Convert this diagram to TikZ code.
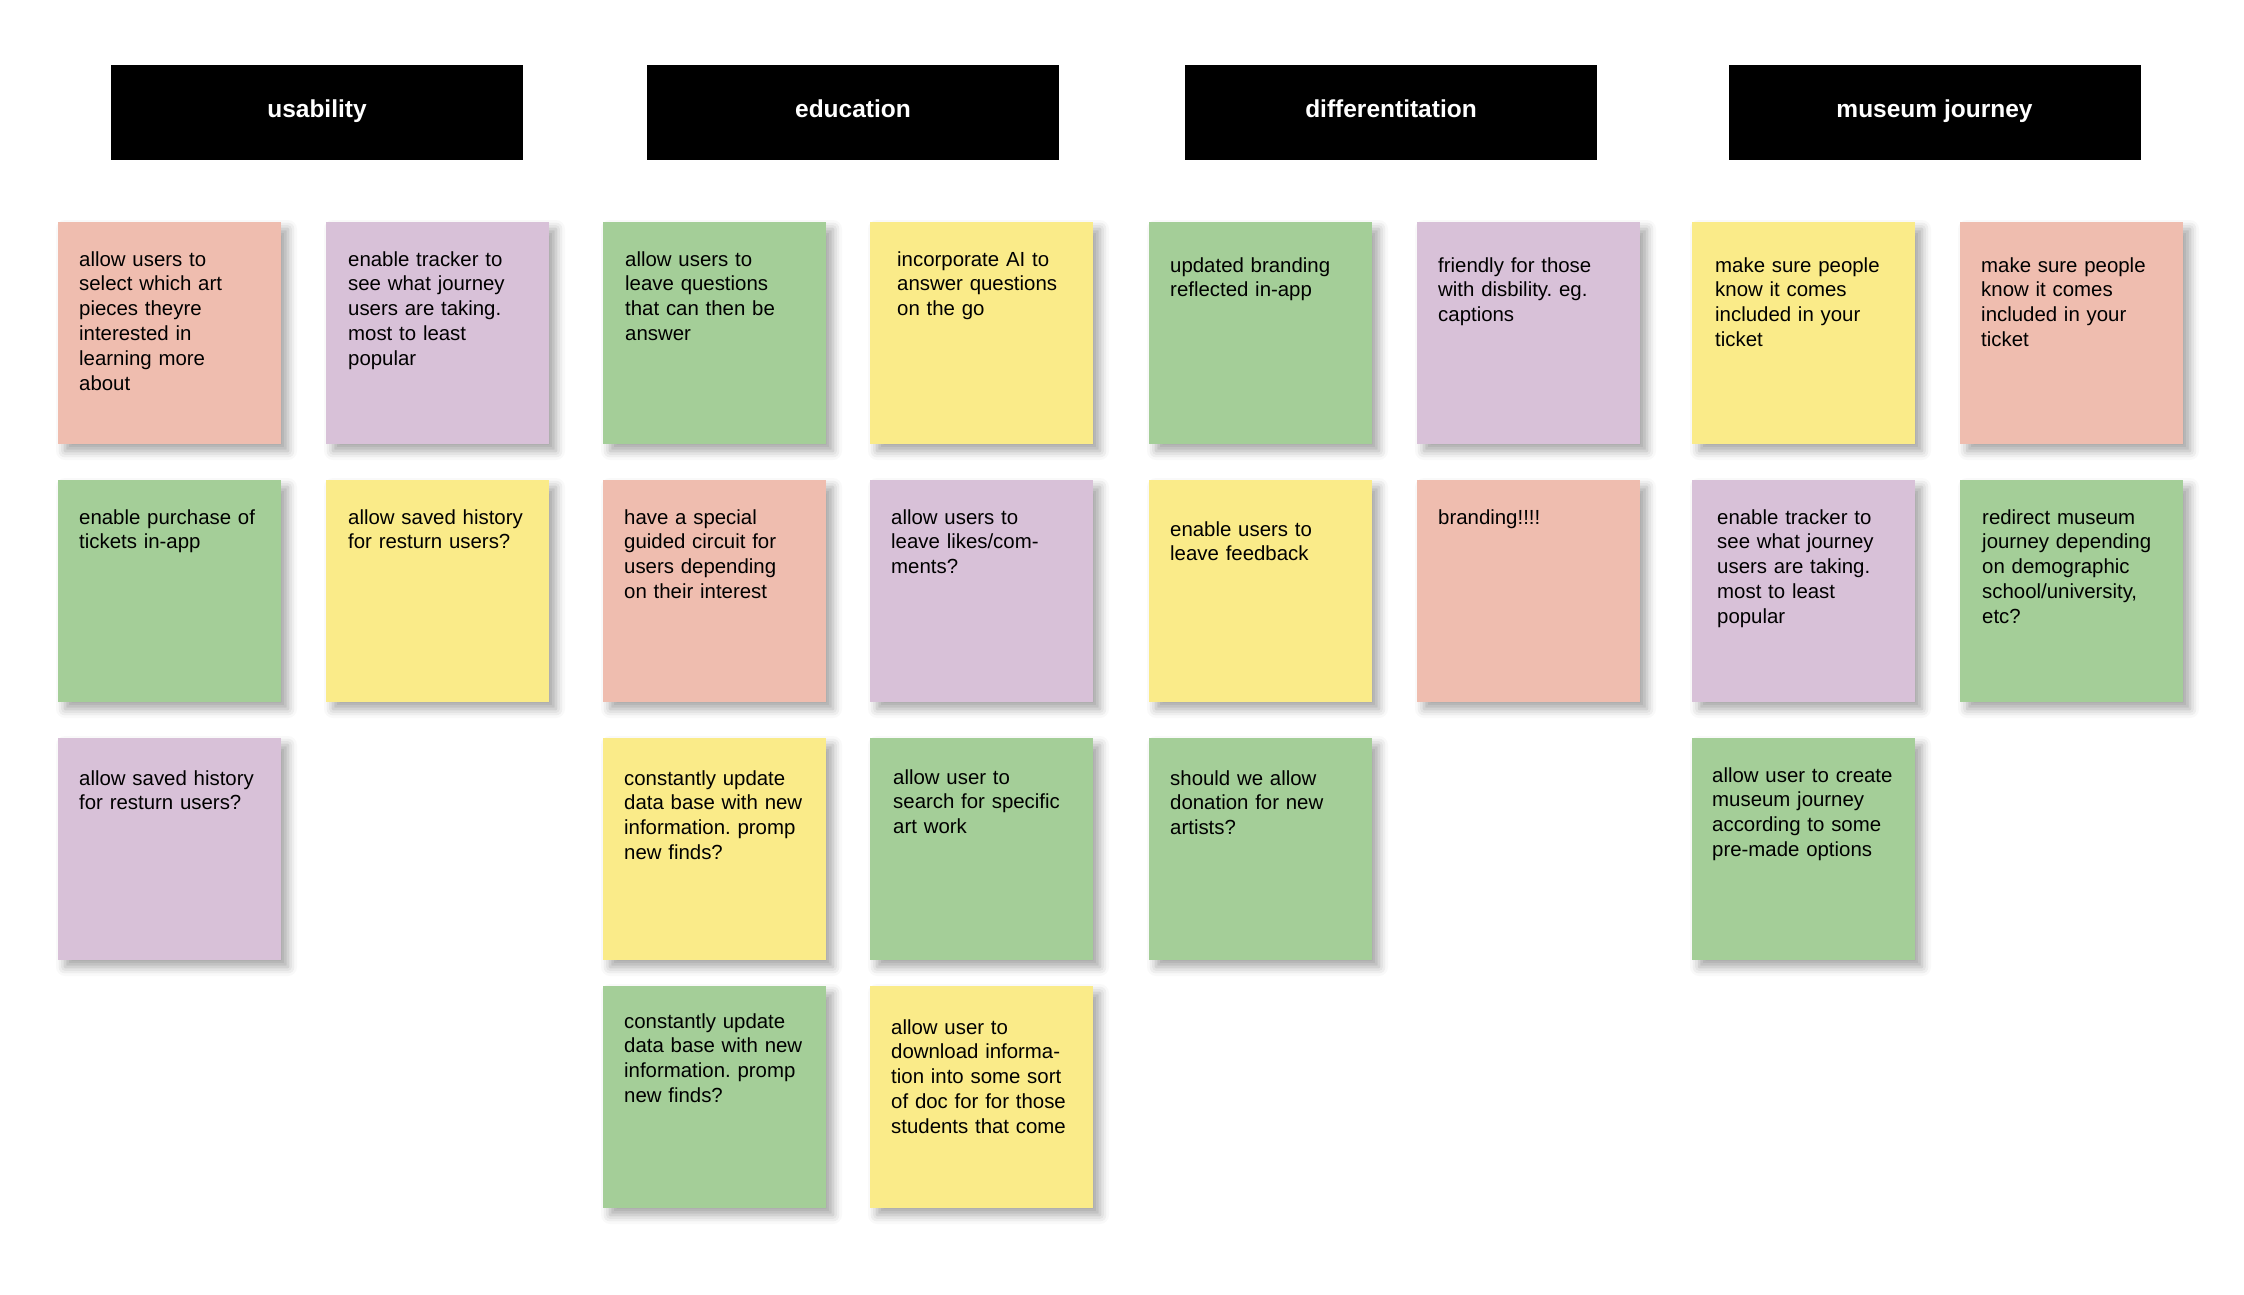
\documentclass[tikz,border=0pt]{standalone}
\usepackage{fontspec}
\setmainfont{Liberation Sans}
\frenchspacing
\usepackage{tikz}
\usetikzlibrary{shapes.geometric, calc, positioning, shadows.blur}
\definecolor{notepink}{RGB}{239,189,175}
\definecolor{notepurple}{RGB}{216,193,216}
\definecolor{notegreen}{RGB}{164,206,152}
\definecolor{noteyellow}{RGB}{250,235,137}
\tikzstyle{header} = [rectangle, fill=black, minimum width=412pt, minimum height=95pt, inner sep=0pt, text height=17pt, text depth=8pt, text=white, font=\fontsize{24.5}{29}\selectfont\bfseries]
\tikzstyle{note} = [rectangle, minimum width=223pt, minimum height=222pt, inner sep=0pt, outer sep=0pt, blur shadow={shadow xshift=7pt, shadow yshift=-7pt, shadow blur radius=9pt, shadow opacity=35}]
\tikzstyle{notetext} = [anchor=base west, xshift=21pt, yshift=-44pt, inner sep=0pt, text width=200pt, align=left, font=\fontsize{20.4}{24.8}\selectfont]

\begin{document}
\begin{tikzpicture}[x=1pt, y=-1pt, node distance = 45pt]
	\useasboundingbox (0,0) rectangle (2244,1294);
	% column headers
	\node (Usability) [header] at (317,112.5) {usability};
	\node (Education) [header] at (853,112.5) {education};
	\node (Differentiation) [header] at (1391,112.5) {differentitation};
	\node (Journey) [header] at (1934.5,112.5) {museum journey};
	% first row
	\node (U1) [note, fill=notepink, anchor=north west, label={[notetext]north west:{allow users to\\select which art\\pieces theyre\\interested in\\learning more\\about}}] at (58,222) {};
	\node (U2) [note, fill=notepurple, right=of U1, label={[notetext, xshift=1pt]north west:{enable tracker to\\see what journey\\users are taking.\\most to least\\popular}}] {};
	\node (E1) [note, fill=notegreen, right=54pt of U2, label={[notetext, xshift=1pt]north west:{allow users to\\leave questions\\that can then be\\answer}}] {};
	\node (E2) [note, fill=noteyellow, right=44pt of E1, label={[notetext, xshift=6pt]north west:{incorporate AI to\\answer questions\\on the go}}] {};
	\node (D1) [note, fill=notegreen, right=56pt of E2, label={[notetext, yshift=-6pt]north west:{updated branding\\reflected in-app}}] {};
	\node (D2) [note, fill=notepurple, right=of D1, label={[notetext, yshift=-6pt]north west:{friendly for those\\with disbility. eg.\\captions}}] {};
	\node (J1) [note, fill=noteyellow, right=52pt of D2, label={[notetext, xshift=2pt, yshift=-6pt]north west:{make sure people\\know it comes\\included in your\\ticket}}] {};
	\node (J2) [note, fill=notepink, right=of J1, label={[notetext, yshift=-6pt]north west:{make sure people\\know it comes\\included in your\\ticket}}] {};
	% second row
	\node (U3) [note, fill=notegreen, below=36pt of U1, label={[notetext]north west:{enable purchase of\\tickets in-app}}] {};
	\node (U4) [note, fill=noteyellow, below=36pt of U2, label={[notetext, xshift=1pt]north west:{allow saved history\\for resturn users?}}] {};
	\node (E3) [note, fill=notepink, below=36pt of E1, label={[notetext]north west:{have a special\\guided circuit for\\users depending\\on their interest}}] {};
	\node (E4) [note, fill=notepurple, below=36pt of E2, label={[notetext]north west:{allow users to\\leave likes/com-\\ments?}}] {};
	\node (D3) [note, fill=noteyellow, below=36pt of D1, label={[notetext, yshift=-12pt]north west:{enable users to\\leave feedback}}] {};
	\node (D4) [note, fill=notepink, below=36pt of D2, label={[notetext]north west:{branding!!!!}}] {};
	\node (J3) [note, fill=notepurple, below=36pt of J1, label={[notetext, xshift=4pt]north west:{enable tracker to\\see what journey\\users are taking.\\most to least\\popular}}] {};
	\node (J4) [note, fill=notegreen, below=36pt of J2, label={[notetext, xshift=1pt]north west:{redirect museum\\journey depending\\on demographic\\school/university,\\etc?}}] {};
	% third row
	\node (U5) [note, fill=notepurple, below=36pt of U3, label={[notetext, yshift=-3pt]north west:{allow saved history\\for resturn users?}}] {};
	\node (E5) [note, fill=noteyellow, below=36pt of E3, label={[notetext, yshift=-3pt]north west:{constantly update\\data base with new\\information. promp\\new finds?}}] {};
	\node (E6) [note, fill=notegreen, below=36pt of E4, label={[notetext, xshift=2pt, yshift=-2pt]north west:{allow user to\\search for specific\\art work}}] {};
	\node (D5) [note, fill=notegreen, below=36pt of D3, label={[notetext, yshift=-3pt]north west:{should we allow\\donation for new\\artists?}}] {};
	\node (J5) [note, fill=notegreen, below=36pt of J3, label={[notetext, xshift=-1pt]north west:{allow user to create\\museum journey\\according to some\\pre-made options}}] {};
	% fourth row
	\node (E7) [note, fill=notegreen, below=26pt of E5, label={[notetext, yshift=2pt]north west:{constantly update\\data base with new\\information. promp\\new finds?}}] {};
	\node (E8) [note, fill=noteyellow, below=26pt of E6, label={[notetext, yshift=-4pt]north west:{allow user to\\download informa-\\tion into some sort\\of doc for for those\\students that come}}] {};
\end{tikzpicture}
\end{document}
